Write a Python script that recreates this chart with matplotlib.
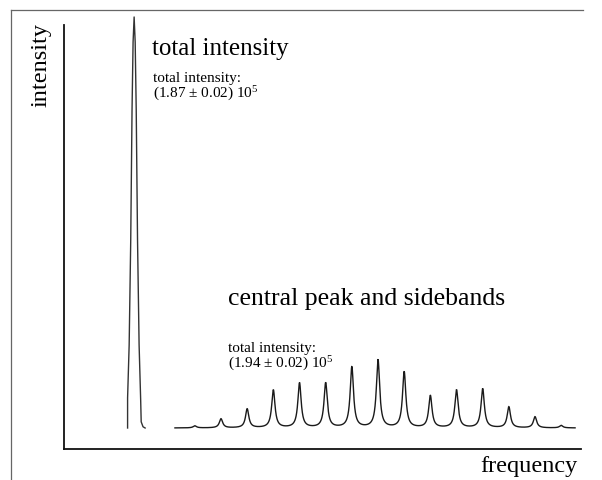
import numpy as np
import matplotlib
matplotlib.use("Agg")
import matplotlib.pyplot as plt
from matplotlib.lines import Line2D

plt.rcParams['font.family'] = ['Liberation Serif', 'DejaVu Serif']
plt.rcParams['mathtext.fontset'] = 'custom'
plt.rcParams['mathtext.rm'] = 'Liberation Serif'
plt.rcParams['mathtext.it'] = 'Liberation Serif:italic'
plt.rcParams['mathtext.bf'] = 'Liberation Serif:bold'

# ---- data (frequency in units of the sideband spacing, intensity arbitrary) ----
# total-intensity spectrum (single tall line), vertices
total_freq = [-9.57, -9.57, -9.51, -9.45, -9.40, -9.36, -9.32, -9.28, -9.24,
              -9.19, -9.13, -9.07, -9.05, -8.98, -8.90]
total_int = [0.0, 7.3, 20.2, 45.7, 77.4, 93.9, 100.0, 93.9, 77.4,
             45.7, 20.2, 6.8, 1.5, 0.3, 0.0]

# central peak and sidebands
sideband_order = [-7, -6, -5, -4, -3, -2, -1, 0, 1, 2, 3, 4, 5, 6, 7]
sideband_height = [0.5, 2.2, 4.6, 9.2, 10.9, 10.9, 14.8, 16.5, 13.6,
                   7.8, 9.2, 9.5, 5.1, 2.7, 0.6]
sideband_halfwidth = 0.076
sideband_range = [-7.76, 7.53]

xlim = [-12.0, 7.757]
ylim = [-5.11, 98.05]

W, H = 602, 480
fig = plt.figure(figsize=(W / 100, H / 100), dpi=100)
ax = fig.add_axes([64 / W, 1 - 449 / H, (581 - 64) / W, (449 - 25) / H])

# sideband spectrum as a sum of Lorentzian lines
f = np.linspace(sideband_range[0], sideband_range[1], 6000)
spec = np.zeros_like(f)
for k, h in zip(sideband_order, sideband_height):
    spec += h * sideband_halfwidth**2 / ((f - k)**2 + sideband_halfwidth**2)
ax.plot(f, spec, color='#1a1a1a', lw=1.0, solid_joinstyle='miter')

ax.plot(total_freq, total_int, color='#333333', lw=1.0, clip_on=False)

ax.set_xlim(xlim)
ax.set_ylim(ylim)
ax.set_xticks([])
ax.set_yticks([])
for s in ['top', 'right']:
    ax.spines[s].set_visible(False)
for s in ['left', 'bottom']:
    ax.spines[s].set_linewidth(1.3)
    ax.spines[s].set_color('#111111')

# figure frame lines
fig.add_artist(Line2D([11 / W, 583 / W], [1 - 10 / H, 1 - 10 / H],
                      color='#666666', lw=0.9))
fig.add_artist(Line2D([11 / W, 11 / W], [0, 1 - 10 / H],
                      color='#666666', lw=0.9))

small = 11
fig.text(41 / W, 1 - 65 / H, 'intensity', rotation=90, ha='center',
         va='center', fontsize=17.5)
fig.text(578 / W, 1 - 472 / H, 'frequency', ha='right', va='baseline',
         fontsize=17.5)
fig.text(152 / W, 1 - 55 / H, 'total intensity', ha='left', va='baseline',
         fontsize=18)
fig.text(153 / W, 1 - 82 / H, 'total intensity:', ha='left', va='baseline',
         fontsize=small)
fig.text(153 / W, 1 - 98 / H, r'(1.87 ± 0.02) 10$^{\mathrm{5}}$', ha='left',
         va='baseline', fontsize=small)
fig.text(228 / W, 1 - 305 / H, 'central peak and sidebands', ha='left',
         va='baseline', fontsize=18.5)
fig.text(228 / W, 1 - 352 / H, 'total intensity:', ha='left', va='baseline',
         fontsize=small)
fig.text(228 / W, 1 - 368 / H, r'(1.94 ± 0.02) 10$^{\mathrm{5}}$', ha='left',
         va='baseline', fontsize=small)

fig.savefig('out.png', dpi=100)
